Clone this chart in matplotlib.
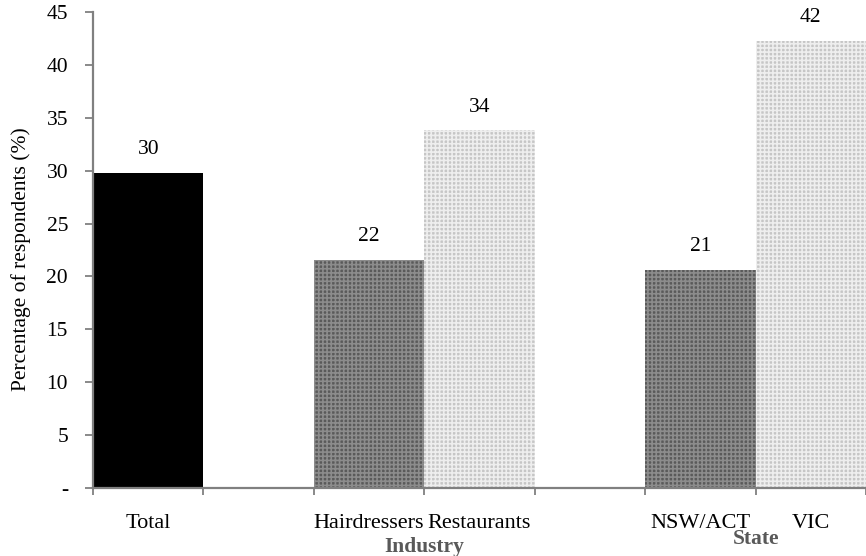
import matplotlib
matplotlib.use("Agg")
import matplotlib.pyplot as plt
import numpy as np

plt.rcParams['font.family'] = ['Liberation Serif', 'DejaVu Serif']
plt.rcParams['hatch.linewidth'] = 1.2

categories = ["Total", "", "Hairdressers", "Restaurants", "", "NSW/ACT", "VIC"]
values = [29.8, np.nan, 21.6, 33.8, np.nan, 20.6, 42.3]
styles = ["black", None, "dark", "light", None, "dark", "light"]
groups = [("Industry", 2.5, -0.103), ("State", 5.5, -0.087)]
yticks = [0, 5, 10, 15, 20, 25, 30, 35, 40, 45]
yticklabels = ["-", "5", "10", "15", "20", "25", "30", "35", "40", "45"]

fig = plt.figure(figsize=(8.66, 5.56), dpi=100)
ax = fig.add_axes([0.1074, 0.1223, 0.8926, 0.8561])

x = np.arange(len(categories))
for xi, v, s in zip(x, values, styles):
    if s is None or np.isnan(v):
        continue
    if s == "black":
        ax.bar(xi, v, width=1.0, color="black", linewidth=0)
    elif s == "dark":
        ax.bar(xi, v, width=1.0, facecolor="#5a5a5a", edgecolor="#8c8c8c",
               hatch="++++", linewidth=0)
    else:
        ax.bar(xi, v, width=1.0, facecolor="#c6c6c6", edgecolor="#eeeeee",
               hatch="++++", linewidth=0)
    ax.text(xi, v + 1.3, f"{round(v)}", ha="center", va="bottom", fontsize=15.5)

ax.set_xlim(-0.5, len(categories) - 0.5)
ax.set_ylim(0, 45)
ax.set_yticks(yticks)
ax.set_yticklabels(yticklabels, fontsize=15.5)
ax.set_xticks(x)
ax.set_xticklabels(categories, fontsize=16)
ax.tick_params(axis="x", which="major", length=0, pad=19)
ax.set_xticks(np.arange(-0.5, len(categories) + 0.5, 1.0), minor=True)
ax.tick_params(axis="x", which="minor", length=5, width=1.3, color="#808080", direction="out")
ax.tick_params(axis="y", length=6, width=1.3, color="#808080", pad=12, direction="out")

for side in ["top", "right"]:
    ax.spines[side].set_visible(False)
for side in ["left", "bottom"]:
    ax.spines[side].set_color("#808080")
    ax.spines[side].set_linewidth(1.6)

ax.set_ylabel("Percentage of respondents (%)", fontsize=15.5, labelpad=8)
ax.yaxis.set_label_coords(-0.08, 0.48)

for name, gx, gy in groups:
    ax.text(gx, gy, name, transform=ax.get_xaxis_transform(), ha="center", va="top",
            fontsize=15.5, fontweight="bold", color="#595959")

fig.savefig("out.png", dpi=100)
